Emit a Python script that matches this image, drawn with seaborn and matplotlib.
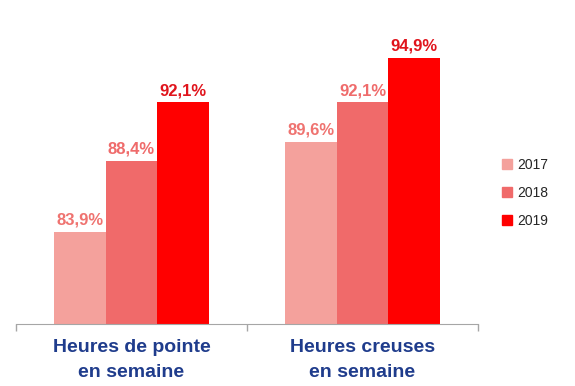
import matplotlib
matplotlib.use("Agg")
import matplotlib.pyplot as plt
from matplotlib.lines import Line2D
import seaborn as sns
import pandas as pd

categories = ["Heures de pointe\nen semaine", "Heures creuses\nen semaine"]
years = ["2017", "2018", "2019"]
values_2017 = [83.9, 89.6]
values_2018 = [88.4, 92.1]
values_2019 = [92.1, 94.9]

bar_colors = ["#f4a19c", "#f06a6a", "#ff0000"]
label_colors = ["#ef7370", "#ef6b6b", "#e0141c"]

df = pd.DataFrame({
    "categorie": categories * 3,
    "annee": [y for y in years for _ in categories],
    "valeur": values_2017 + values_2018 + values_2019,
})

sns.set_style("white")
plt.rcParams["font.family"] = ["Liberation Sans", "DejaVu Sans"]

fig = plt.figure(figsize=(5.75, 3.86), dpi=100)
ax = fig.add_axes([16 / 575, 62 / 386, 462 / 575, 304 / 386])

sns.barplot(data=df, x="categorie", y="valeur", hue="annee",
            palette=bar_colors, width=0.67, saturation=1, linewidth=0,
            ax=ax, legend=False)

ax.set_ylim(78.1, 97.3)
ax.set_xlim(-0.5, 1.5)

for cont, col in zip(ax.containers, label_colors):
    ax.bar_label(cont, labels=[f"{v:.1f}%".replace(".", ",") for v in cont.datavalues],
                 color=col, fontsize=12, fontweight="bold", padding=3)

# axis styling
for side in ["top", "right", "left"]:
    ax.spines[side].set_visible(False)
ax.spines["bottom"].set_color("#a6a6a6")
ax.set_yticks([])
ax.set_xlabel("")
ax.set_ylabel("")
ax.set_xticks([0, 1])
ax.set_xticklabels(categories, fontsize=14, fontweight="bold",
                   color="#1f3c8c", linespacing=1.6)
ax.tick_params(axis="x", which="major", length=0, pad=11)
ax.set_xticks([-0.5, 0.5, 1.5], minor=True)
ax.tick_params(axis="x", which="minor", bottom=True, length=5, width=1,
               color="#a6a6a6", direction="out")

handles = [Line2D([0], [0], marker="s", linestyle="", markersize=7,
                  markerfacecolor=c, markeredgecolor=c) for c in bar_colors]
fig.legend(handles, years, loc="center left", bbox_to_anchor=(488 / 575, 1 - 193 / 386),
           frameon=False, fontsize=10, handletextpad=0.2, labelspacing=1.0,
           handlelength=1.0)

fig.savefig("out.png", dpi=100)
